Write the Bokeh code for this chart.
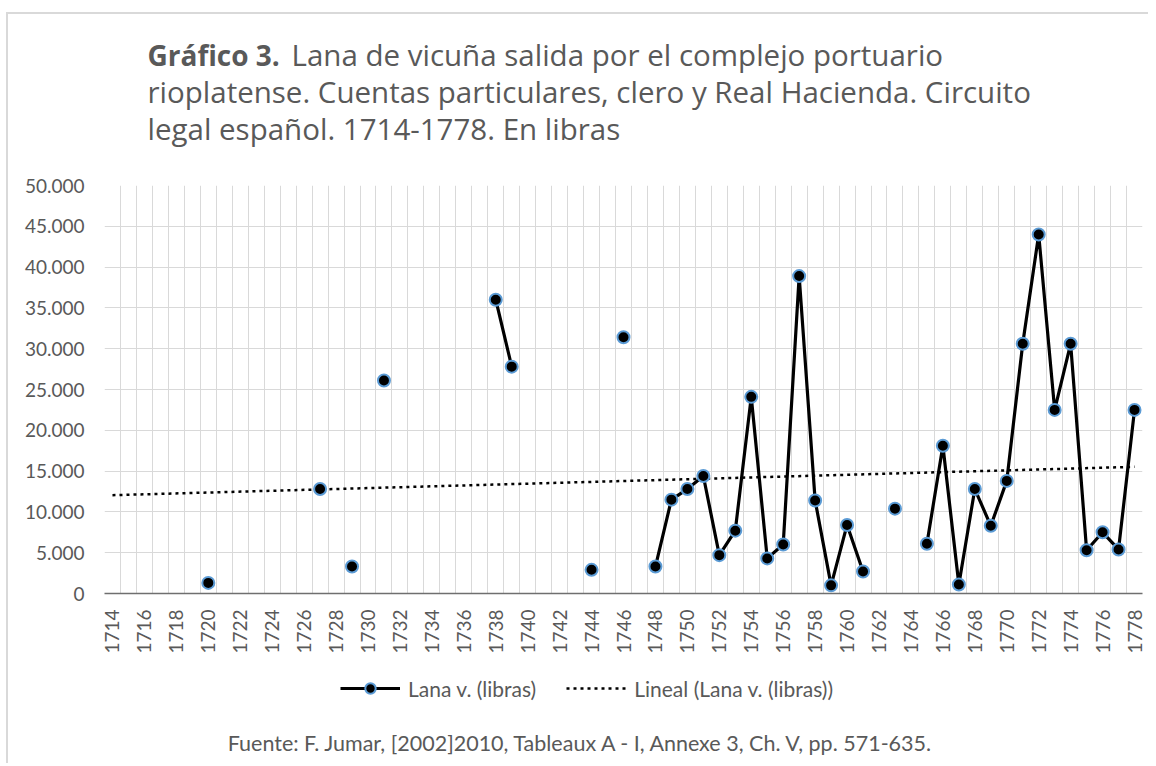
import math
import numpy as np
from bokeh.plotting import figure
from bokeh.layouts import column
from bokeh.models import (FixedTicker, CustomJSTickFormatter, Legend,
                          LegendItem, Range1d)
from bokeh.core.properties import value
from bokeh.embed import file_html
from bokeh.resources import INLINE

# ---------------- data ----------------
years = [1714, 1715, 1716, 1717, 1718, 1719, 1720, 1721, 1722, 1723, 1724, 1725,
         1726, 1727, 1728, 1729, 1730, 1731, 1732, 1733, 1734, 1735, 1736, 1737,
         1738, 1739, 1740, 1741, 1742, 1743, 1744, 1745, 1746, 1747, 1748, 1749,
         1750, 1751, 1752, 1753, 1754, 1755, 1756, 1757, 1758, 1759, 1760, 1761,
         1762, 1763, 1764, 1765, 1766, 1767, 1768, 1769, 1770, 1771, 1772, 1773,
         1774, 1775, 1776, 1777, 1778]
lana = [None, None, None, None, None, None, 1300,              # 1714-1720
        None, None, None, None, None, None,                    # 1721-1726
        12800, None, 3300, None, 26100,                        # 1727-1731
        None, None, None, None, None, None,                    # 1732-1737
        36000, 27800,                                          # 1738-1739
        None, None, None, None,                                # 1740-1743
        2900, None, 31400, None, 3300, 11500, 12800, 14400,    # 1744-1751
        4700, 7700, 24100, 4300, 6000, 38900, 11400, 1000,     # 1752-1759
        8400, 2700,                                            # 1760-1761
        None, 10400, None, 6100, 18100, 1100, 12800, 8300,     # 1762-1769
        13800, 30600, 44000, 22500, 30600, 5300, 7500, 5400,   # 1770-1777
        22500]                                                 # 1778
x_tick_years = [1714, 1716, 1718, 1720, 1722, 1724, 1726, 1728, 1730, 1732, 1734,
                1736, 1738, 1740, 1742, 1744, 1746, 1748, 1750, 1752, 1754, 1756,
                1758, 1760, 1762, 1764, 1766, 1768, 1770, 1772, 1774, 1776, 1778]
y_ticks = [0, 5000, 10000, 15000, 20000, 25000, 30000, 35000, 40000, 45000, 50000]

title_bold = "Gráfico 3."
title_lines = ["Lana de vicuña salida por el complejo portuario",
               "rioplatense. Cuentas particulares, clero y Real Hacienda. Circuito",
               "legal español. 1714-1778. En libras"]
series_name = "Lana v. (libras)"
trend_name = "Lineal (Lana v. (libras))"
source_text = "Fuente: F. Jumar, [2002]2010, Tableaux A - I, Annexe 3, Ch. V, pp. 571-635."

# ---------------- derived ----------------
vals = np.array([np.nan if v is None else v for v in lana], dtype=float)
yrs = np.array(years, dtype=float)
mask = ~np.isnan(vals)
slope, intercept = np.polyfit(yrs[mask], vals[mask], 1)
trend_x = [years[0], years[-1]]
trend_y = [slope * x + intercept for x in trend_x]

TXT = "#595959"
GRID = "#d9d9d9"
FONT = "Lato"
TFONT = "Open Sans"
W = 1140
BL, BR = 96, 6   # left / right borders shared by all stacked figures

LINE_KW = dict(line_color="black", line_width=3.2)
PT_KW = dict(size=12, fill_color="black", line_color="#5B9BD5", line_width=2)
TREND_KW = dict(line_color="black", line_width=2.5, line_dash="3 4")


def blank(height):
    f = figure(width=W, height=height, output_backend="svg", toolbar_location=None,
               x_range=Range1d(BL, W - BR), y_range=Range1d(height, 0),
               x_axis_location=None, y_axis_location=None,
               min_border_left=BL, min_border_right=BR,
               min_border_top=0, min_border_bottom=0)
    f.grid.visible = False
    f.outline_line_color = None
    f.background_fill_color = "white"
    f.border_fill_color = "white"
    return f


# ---------------- title block ----------------
TSIZE = "29.5px"
head = blank(159)
head.text(x=[139], y=[40], text=[title_bold], text_font=value(TFONT),
          text_font_style="bold", text_font_size="28px", text_color=TXT,
          text_baseline="middle")
head.text(x=[283], y=[40], text=[title_lines[0]], text_font=value(TFONT),
          text_font_size=TSIZE, text_color=TXT, text_baseline="middle")
head.text(x=[139, 139], y=[77, 114], text=title_lines[1:], text_font=value(TFONT),
          text_font_size=TSIZE, text_color=TXT, text_baseline="middle")

# ---------------- main chart ----------------
p = figure(width=W, height=490, output_backend="svg", toolbar_location=None,
           x_range=Range1d(years[0] - 0.5, years[-1] + 0.5),
           y_range=Range1d(y_ticks[0], y_ticks[-1]),
           min_border_left=BL, min_border_top=12, min_border_bottom=70,
           min_border_right=BR)
p.outline_line_color = None
p.background_fill_color = "white"
p.border_fill_color = "white"

p.xgrid.ticker = FixedTicker(ticks=[y - 0.5 for y in years] + [years[-1] + 0.5])
p.xgrid.grid_line_color = GRID
p.ygrid.ticker = FixedTicker(ticks=y_ticks)
p.ygrid.grid_line_color = GRID

p.xaxis.ticker = FixedTicker(ticks=x_tick_years)
p.xaxis.major_label_orientation = math.pi / 2
p.xaxis.axis_line_color = "#6f6f6f"
p.xaxis.axis_line_width = 1.5
p.xaxis.major_tick_line_color = None
p.xaxis.minor_tick_line_color = None
p.xaxis.major_label_standoff = 10
p.xaxis.major_label_text_font = FONT
p.xaxis.major_label_text_font_size = "19px"
p.xaxis.major_label_text_color = TXT

p.yaxis.ticker = FixedTicker(ticks=y_ticks)
p.yaxis.formatter = CustomJSTickFormatter(
    code="return tick.toFixed(0).replace(/\\B(?=(\\d{3})+(?!\\d))/g, '.');")
p.yaxis.axis_line_color = None
p.yaxis.major_tick_line_color = None
p.yaxis.minor_tick_line_color = None
p.yaxis.major_label_standoff = 14
p.yaxis.major_label_text_font = FONT
p.yaxis.major_label_text_font_size = "19px"
p.yaxis.major_label_text_color = TXT

p.line(trend_x, trend_y, **TREND_KW)
p.line(years, vals.tolist(), **LINE_KW)
p.scatter(years, vals.tolist(), **PT_KW)

# ---------------- legend + source ----------------
foot = blank(100)
lg_line = foot.line([np.nan], [np.nan], **LINE_KW)
lg_pts = foot.scatter([np.nan], [np.nan], **PT_KW)
lg_trend = foot.line([np.nan], [np.nan], **TREND_KW)
legend = Legend(items=[LegendItem(label=series_name, renderers=[lg_line, lg_pts]),
                       LegendItem(label=trend_name, renderers=[lg_trend])],
                orientation="horizontal", location=(236, 62))
legend.border_line_color = None
legend.background_fill_alpha = 0
legend.padding = 0
legend.margin = 0
legend.spacing = 30
legend.glyph_width = 60
legend.glyph_height = 26
legend.label_standoff = 8
legend.label_text_font = FONT
legend.label_text_font_size = "21px"
legend.label_text_color = TXT
foot.add_layout(legend, "center")
foot.text(x=[573], y=[79], text=[source_text], text_font=value(FONT),
          text_font_size="21.5px", text_color=TXT, text_align="center",
          text_baseline="middle")

layout = column(head, p, foot, spacing=0, margin=(12, 0, 0, 6),
                styles={"border-top": "2px solid #d9d9d9",
                        "border-left": "2px solid #d9d9d9"})

open("out.html", "w").write(file_html(layout, INLINE))
